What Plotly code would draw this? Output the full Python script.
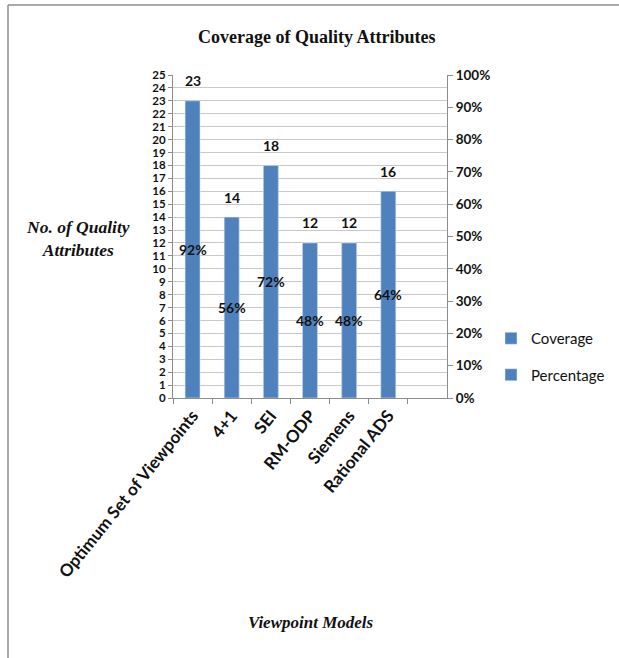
import plotly.graph_objects as go

# Data
models = ["Optimum Set of Viewpoints", "4+1", "SEI", "RM-ODP", "Siemens", "Rational ADS"]
coverage = [23, 14, 18, 12, 12, 16]
percentage = [0.92, 0.56, 0.72, 0.48, 0.48, 0.64]
left_ticks = list(range(0, 26))
right_ticks = [i / 10 for i in range(0, 11)]

W, H = 619, 658
L, R, T, B = 173, 447, 75, 398  # plot area in pixels

def px_x(px):
    return (px - L) / (R - L)

def px_y(py):
    return (B - py) / (B - T)

BLUE = "#4F81BD"
LABEL_FONT = dict(family="Lato, Carlito, Arial", color="#111111", weight="bold")

fig = go.Figure()
fig.add_trace(go.Bar(
    x=models, y=coverage, name="Coverage", marker_color=BLUE,
    width=0.38, yaxis="y", legendgroup="a",
))
fig.add_trace(go.Bar(
    x=models, y=percentage, name="Percentage", marker_color=BLUE,
    width=0.38, yaxis="y2", legendgroup="b",
))

annotations = []
for m, v in zip(models, coverage):
    annotations.append(dict(x=m, y=v, xref="x", yref="y", text=str(v), showarrow=False,
                            yshift=20, font=dict(size=14, **LABEL_FONT)))
for m, p in zip(models, percentage):
    annotations.append(dict(x=m, y=p / 2, xref="x", yref="y2", text=f"{round(p * 100)}%",
                            showarrow=False, font=dict(size=14, **LABEL_FONT)))

serif = dict(family="Liberation Serif, Times New Roman, serif", color="#111111", weight="bold")

def label(px, py, text, size):
    return dict(x=px_x(px), y=px_y(py), xref="paper", yref="paper", xanchor="center",
                yanchor="middle", text=text, showarrow=False, font=dict(size=size, **serif))

annotations.append(label(316, 37, "Coverage of Quality Attributes", 18))
annotations.append(label(78, 238, "<i>No. of Quality<br>Attributes</i>", 17.5))
annotations.append(label(311, 622, "<i>Viewpoint Models</i>", 17))

shapes = [
    dict(type="line", xref="paper", yref="paper", x0=px_x(8), x1=px_x(8), y0=px_y(5), y1=px_y(H + 5),
         line=dict(color="#8C8C8C", width=1.5)),
    dict(type="line", xref="paper", yref="paper", x0=px_x(8), x1=px_x(W + 5), y0=px_y(5), y1=px_y(5),
         line=dict(color="#8C8C8C", width=1.5)),
]

fig.update_layout(
    width=W, height=H, autosize=False,
    margin=dict(l=L, r=W - R, t=T, b=H - B, pad=0, autoexpand=False),
    paper_bgcolor="white", plot_bgcolor="white",
    barmode="overlay", showlegend=True,
    legend=dict(x=px_x(491), y=px_y(322), xanchor="left", yanchor="top",
                font=dict(size=15, family="Lato, Carlito, Arial", color="#111111"),
                tracegroupgap=14, bgcolor="rgba(0,0,0,0)"),
    xaxis=dict(type="category", categoryorder="array", categoryarray=models,
               range=[-0.5, 6.5], showline=True, linecolor="#8C8C8C", linewidth=1,
               ticks="outside", ticklen=5, tickcolor="#8C8C8C", tickson="boundaries",
               tickangle=-51, tickfont=dict(size=17, **LABEL_FONT), showgrid=False),
    yaxis=dict(range=[0, 25], tickvals=left_ticks, showline=True, linecolor="#8C8C8C",
               linewidth=1, ticks="outside", ticklen=4, tickcolor="#8C8C8C",
               showgrid=True, gridcolor="#C8C8C8", gridwidth=1, zeroline=False,
               tickfont=dict(size=11.5, **LABEL_FONT)),
    yaxis2=dict(range=[0, 1], tickvals=right_ticks, tickformat=".0%", overlaying="y", side="right",
                showline=True, linecolor="#8C8C8C", linewidth=1, ticks="outside", ticklen=5,
                tickcolor="#8C8C8C", showgrid=False, zeroline=False,
                tickfont=dict(size=13.5, **LABEL_FONT)),
    annotations=annotations, shapes=shapes,
)

fig.write_html("out.html")
